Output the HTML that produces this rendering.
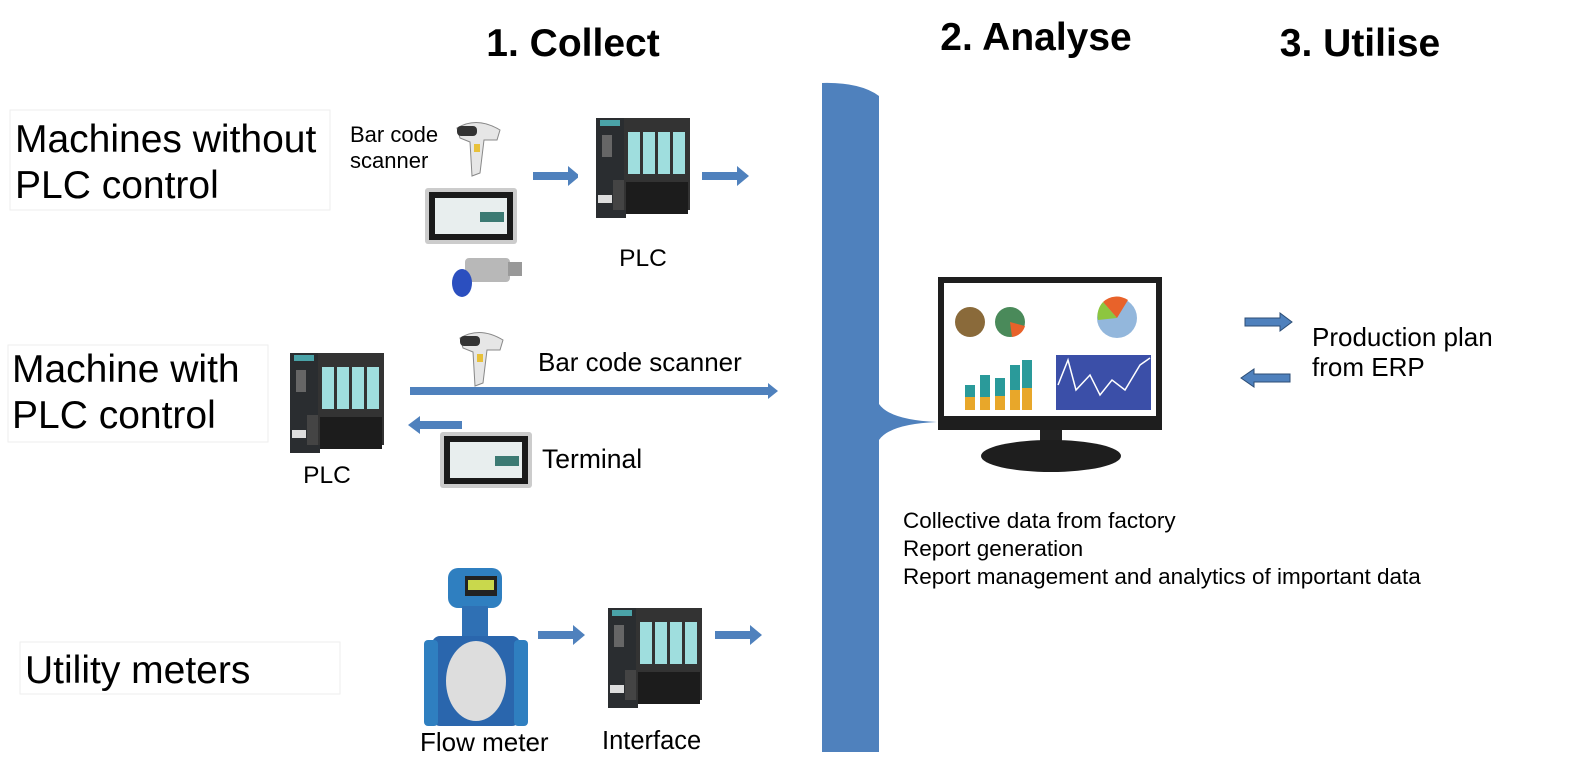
<!DOCTYPE html>
<html><head><meta charset="utf-8"><style>
body{margin:0;width:1587px;height:768px;background:#fff;overflow:hidden;font-family:"Liberation Sans",Arial,sans-serif;}
</style></head><body>
<svg width="1587" height="768" xmlns="http://www.w3.org/2000/svg" font-family="Liberation Sans, Arial, sans-serif">
<defs>
<g id="plc">
 <rect x="0" y="0" width="120" height="115" fill="#fff"/>
 <rect x="18" y="8" width="30" height="100" fill="#2a2d30"/>
 <rect x="22" y="10" width="20" height="6" fill="#4aa3a8"/>
 <rect x="24" y="25" width="10" height="22" fill="#666"/>
 <rect x="35" y="70" width="12" height="30" fill="#444"/>
 <rect x="46" y="8" width="66" height="92" fill="#333"/>
 <rect x="50" y="22" width="12" height="42" fill="#9fdede"/>
 <rect x="65" y="22" width="12" height="42" fill="#9fdede"/>
 <rect x="80" y="22" width="12" height="42" fill="#9fdede"/>
 <rect x="95" y="22" width="12" height="42" fill="#9fdede"/>
 <rect x="48" y="72" width="62" height="32" fill="#1c1c1c"/>
 <rect x="20" y="85" width="14" height="8" fill="#ddd"/>
</g>
<g id="tab">
 <rect x="0" y="0" width="92" height="56" rx="3" fill="#ccc"/>
 <rect x="4" y="4" width="84" height="48" fill="#1a1a1a"/>
 <rect x="10" y="10" width="72" height="36" fill="#e8eeee"/>
 <rect x="55" y="24" width="24" height="10" fill="#3c7a73"/>
</g>
<g id="scan">
 <path d="M5 10 Q25 -2 48 12 L45 22 L32 22 L28 55 L20 58 L18 24 L8 20 Z" fill="#e6e6e6" stroke="#888"/>
 <rect x="5" y="8" width="20" height="10" rx="4" fill="#333"/>
 <rect x="22" y="26" width="6" height="8" fill="#e8c13a"/>
</g>
</defs>

<text x="573" y="56" font-size="39" font-weight="bold" text-anchor="middle">1. Collect</text>
<text x="1036" y="50" font-size="39" font-weight="bold" text-anchor="middle">2. Analyse</text>
<text x="1360" y="56" font-size="39" font-weight="bold" text-anchor="middle">3. Utilise</text>

<rect x="10" y="110" width="320" height="100" fill="none" stroke="#eee"/>
<text x="15" y="152" font-size="39">Machines without</text>
<text x="15" y="198" font-size="39">PLC control</text>
<rect x="8" y="345" width="260" height="97" fill="none" stroke="#eee"/>
<text x="12" y="382" font-size="39">Machine with</text>
<text x="12" y="428" font-size="39">PLC control</text>
<rect x="20" y="642" width="320" height="52" fill="none" stroke="#eee"/>
<text x="25" y="683" font-size="39">Utility meters</text>

<text x="350" y="142" font-size="22">Bar code</text>
<text x="350" y="168" font-size="22">scanner</text>
<use href="#scan" x="452" y="118"/>
<use href="#tab" x="425" y="188"/>
<g>
 <rect x="465" y="258" width="45" height="24" rx="4" fill="#b8b8b8"/>
 <rect x="508" y="262" width="14" height="14" fill="#999"/>
 <ellipse cx="462" cy="283" rx="10" ry="14" fill="#2b4fbf"/>
</g>
<path d="M533 172 H568 V166 L580 176 L568 186 V180 H533 Z" fill="#4f81bd"/>
<use href="#plc" x="578" y="110"/>
<path d="M702 172 H737 V166 L749 176 L737 186 V180 H702 Z" fill="#4f81bd"/>
<text x="643" y="266" font-size="24.5" text-anchor="middle">PLC</text>

<use href="#plc" x="272" y="345"/>
<text x="327" y="483" font-size="24.5" text-anchor="middle">PLC</text>
<use href="#scan" x="455" y="328"/>
<text x="538" y="371" font-size="26">Bar code scanner</text>
<path d="M410 387 H768 V383 L778 391 L768 399 V395 H410 Z" fill="#4f81bd"/>
<path d="M462 421 H420 V416 L408 425 L420 434 V429 H462 Z" fill="#4f81bd"/>
<use href="#tab" x="440" y="432"/>
<text x="542" y="468" font-size="26.5">Terminal</text>

<g>
 <rect x="448" y="568" width="54" height="40" rx="10" fill="#2f7fc0"/>
 <rect x="465" y="576" width="32" height="20" fill="#222"/>
 <rect x="468" y="580" width="26" height="10" fill="#c9d84c"/>
 <rect x="462" y="606" width="26" height="30" fill="#2f70b4"/>
 <rect x="432" y="636" width="88" height="90" rx="8" fill="#2a66ad"/>
 <rect x="424" y="640" width="14" height="86" rx="4" fill="#2f7fc0"/>
 <rect x="514" y="640" width="14" height="86" rx="4" fill="#2f7fc0"/>
 <ellipse cx="476" cy="681" rx="30" ry="40" fill="#ddd"/>
</g>
<text x="420" y="751" font-size="26">Flow meter</text>
<path d="M538 631 H573 V625 L585 635 L573 645 V639 H538 Z" fill="#4f81bd"/>
<use href="#plc" x="590" y="600"/>
<text x="602" y="749" font-size="25.5">Interface</text>
<path d="M715 631 H750 V625 L762 635 L750 645 V639 H715 Z" fill="#4f81bd"/>

<path d="M822 83 Q860 82 879 96 L879 404 Q890 420 937 422 Q890 424 879 440 L879 752 L822 752 Z" fill="#4f81bd"/>

<rect x="938" y="277" width="224" height="153" fill="#1e1e1e"/>
<rect x="944" y="283" width="212" height="133" fill="#fff"/>
<rect x="1056" y="355" width="95" height="55" fill="#3b4fa8"/>
<polyline points="1058,385 1068,360 1076,390 1090,375 1100,395 1112,380 1125,390 1140,365 1150,358" fill="none" stroke="#fff" stroke-width="1.5"/>
<circle cx="970" cy="322" r="15" fill="#8a6a3a"/>
<circle cx="1010" cy="322" r="15" fill="#4a8a5a"/>
<path d="M1010 322 L1025 326 A15 15 0 0 1 1012 337 Z" fill="#e8622a"/>
<circle cx="1117" cy="318" r="20" fill="#93b7dc"/>
<path d="M1117 318 L1103 302 A20 20 0 0 1 1128 300 Z" fill="#e8622a"/>
<path d="M1117 318 L1098 320 A20 20 0 0 1 1103 302 Z" fill="#8dc63f"/>
<g fill="#e8a72a">
 <rect x="965" y="385" width="10" height="25"/><rect x="980" y="375" width="10" height="35"/><rect x="995" y="378" width="10" height="32"/><rect x="1010" y="365" width="10" height="45"/><rect x="1022" y="360" width="10" height="50"/>
</g>
<g fill="#2a9a9a">
 <rect x="965" y="385" width="10" height="12"/><rect x="980" y="375" width="10" height="22"/><rect x="995" y="378" width="10" height="18"/><rect x="1010" y="365" width="10" height="25"/><rect x="1022" y="360" width="10" height="28"/>
</g>
<rect x="1040" y="430" width="22" height="16" fill="#222"/>
<ellipse cx="1051" cy="456" rx="70" ry="16" fill="#1e1e1e"/>

<text x="903" y="528" font-size="22.5">Collective data from factory</text>
<text x="903" y="556" font-size="22.5">Report generation</text>
<text x="903" y="584" font-size="22.5">Report management and analytics of important data</text>

<path d="M1245 318 H1280 V313 L1292 322 L1280 331 V326 H1245 Z" fill="#4f81bd" stroke="#2c4d75"/>
<path d="M1290 374 H1254 V369 L1241 378 L1254 387 V382 H1290 Z" fill="#4f81bd" stroke="#2c4d75"/>
<text x="1312" y="346" font-size="26">Production plan</text>
<text x="1312" y="376" font-size="26">from ERP</text>
</svg>
</body></html>
